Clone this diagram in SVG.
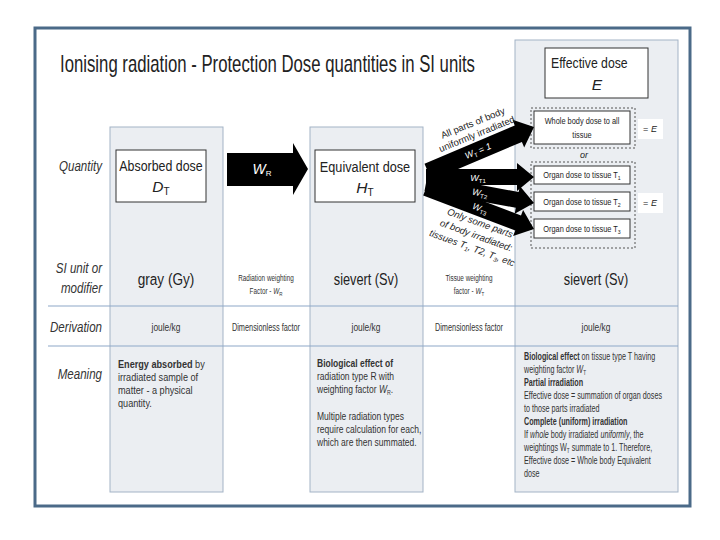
<svg xmlns="http://www.w3.org/2000/svg" width="720" height="540" viewBox="0 0 720 540">
<style>
text{font-family:"Liberation Sans",Arial,sans-serif;fill:#222}
.lbl{font-style:italic;font-size:15px;text-anchor:end;fill:#333}
.panel{fill:#ebeef2;stroke:#a3b3c6;stroke-width:1}
.hline{stroke:#8ea8c8;stroke-width:1.2}
.box{fill:#fff;stroke:#333;stroke-width:1}
.dash{fill:none;stroke:#555;stroke-width:1;stroke-dasharray:2 2}
.hdr{font-size:15.5px;text-anchor:middle}
.unit{font-size:17px;text-anchor:middle}
.sm{font-size:8.5px;text-anchor:middle;fill:#333}
.der{font-size:10.5px;text-anchor:middle;fill:#333}
.body{font-size:10.5px;fill:#333}
.body3{font-size:10px;fill:#333}
.arrow{fill:#000}
.wl{fill:#fff;font-style:italic;font-size:9px;text-anchor:middle}
.wl tspan{fill:#fff}
.wr{fill:#fff;font-style:italic;font-size:14px;text-anchor:middle}
.wr tspan{fill:#fff}
.fan{font-size:9.5px;text-anchor:middle}
.bx{font-size:8.5px;text-anchor:middle}
.eq{font-size:9px;text-anchor:middle}
.b{font-weight:bold}
.i{font-style:italic}
</style>
<rect x="35" y="28" width="655" height="478" fill="#fff" stroke="#4b6a88" stroke-width="3"/>
<text x="60" y="72" font-size="23" transform="matrix(0.728 0 0 1 16.32 0)">Ionising radiation - Protection Dose quantities in SI units</text>

<g id="panels">
<rect class="panel" x="110" y="127" width="113" height="365"/>
<rect class="panel" x="310" y="127" width="113" height="365"/>
<rect class="panel" x="515" y="40" width="163" height="452"/>
</g>
<g id="rows">
<line class="hline" x1="48" y1="306" x2="678" y2="306"/>
<line class="hline" x1="48" y1="346" x2="678" y2="346"/>
<g transform="matrix(0.77 0 0 1 23.46 0)">
<text class="lbl" x="102" y="171">Quantity</text>
<text class="lbl" x="102" y="273">SI unit or</text>
<text class="lbl" x="102" y="293">modifier</text>
<text class="lbl" x="102" y="332">Derivation</text>
<text class="lbl" x="102" y="379">Meaning</text>
</g>
</g>

<g id="node-absorbed">
<rect class="box" x="116" y="150" width="90" height="52"/>
<text class="hdr" x="161" y="171" transform="matrix(0.8 0 0 1 32.2 0)">Absorbed dose</text>
<text class="hdr" x="161" y="192"><tspan class="i">D</tspan><tspan font-size="10" dy="3">T</tspan></text>
</g>
<g id="node-equivalent">
<rect class="box" x="315" y="150" width="100" height="52"/>
<text class="hdr" x="365" y="172" transform="matrix(0.82 0 0 1 65.7 0)">Equivalent dose</text>
<text class="hdr" x="365" y="193"><tspan class="i">H</tspan><tspan font-size="10" dy="3">T</tspan></text>
</g>
<g id="node-effective">
<rect class="box" x="545" y="48" width="103" height="50"/>
<text x="551" y="68" font-size="15.5" transform="matrix(0.79 0 0 1 115.71 0)">Effective dose</text>
<text class="hdr i" x="597" y="90">E</text>
</g>
<g id="node-wholebody">
<rect class="dash" x="531" y="108" width="104" height="40"/>
<rect class="box" x="534" y="111" width="96" height="33"/>
<g transform="matrix(0.87 0 0 1 75.66 0)">
<text class="bx" x="582" y="124">Whole body dose to all</text>
<text class="bx" x="582" y="138">tissue</text>
</g>
<rect x="638" y="119" width="25" height="20" fill="#fff"/>
<text class="eq" x="650" y="132">= <tspan class="i">E</tspan></text>
</g>
<text class="eq i" x="584" y="158" font-size="8">or</text>
<g id="node-organs">
<rect class="dash" x="531" y="162" width="104" height="86"/>
<rect x="638" y="193" width="25" height="20" fill="#fff"/>
<text class="eq" x="650" y="206">= <tspan class="i">E</tspan></text>
</g>
<g id="node-organ1">
<rect class="box" x="534" y="166" width="96" height="18"/>
<text class="bx" x="582" y="178" transform="matrix(0.87 0 0 1 75.66 0)">Organ dose to tissue T<tspan font-size="6" dy="2">1</tspan></text>
</g>
<g id="node-organ2">
<rect class="box" x="534" y="192" width="96" height="19"/>
<text class="bx" x="582" y="205" transform="matrix(0.87 0 0 1 75.66 0)">Organ dose to tissue T<tspan font-size="6" dy="2">2</tspan></text>
</g>
<g id="node-organ3">
<rect class="box" x="534" y="219" width="96" height="19"/>
<text class="bx" x="582" y="232" transform="matrix(0.87 0 0 1 75.66 0)">Organ dose to tissue T<tspan font-size="6" dy="2">3</tspan></text>
</g>

<g id="connectors">
<polygon class="arrow" points="227,153 293,153 293,143 308,169 293,195 293,186 227,186"/>
<text class="wr" x="262" y="174">W<tspan font-size="8" dy="2" font-style="normal">R</tspan></text>
<polygon class="arrow" points="424.5,163.7 514.8,125.4 512.5,119.8 534,127 524.2,147.5 521.9,141.9 431.5,180.3"/>
<polygon class="arrow" points="426,169 517,169 517,163 534,177 517,191 517,185 426,185"/>
<polygon class="arrow" points="427.5,175.1 518.7,192 519.8,186.1 534,203 514.7,213.7 515.8,207.8 424.5,190.9"/>
<polygon class="arrow" points="428.8,180.5 521,215.5 523.1,209.9 534,229 513.1,236.1 515.3,230.5 423.2,195.5"/>
<text class="wl" x="478" y="154" transform="rotate(-23 478 151)">W<tspan font-size="6" dy="2" font-style="normal">T</tspan><tspan dy="-2"> = 1</tspan></text>
<text class="wl" x="478" y="181">W<tspan font-size="6" dy="2" font-style="normal">T1</tspan></text>
<text class="wl" x="480" y="196" transform="rotate(10.5 480 193)">W<tspan font-size="6" dy="2" font-style="normal">T2</tspan></text>
<text class="wl" x="480" y="211.5" transform="rotate(20.8 480 208.5)">W<tspan font-size="6" dy="2" font-style="normal">T3</tspan></text>
<text class="fan" x="474" y="126" transform="rotate(-22 474 126)">All parts of body</text>
<text class="fan" x="478" y="137" transform="rotate(-22 478 137)">uniformly irradiated</text>
<text class="fan i" x="479" y="226" transform="rotate(20 479 226)">Only some parts</text>
<text class="fan i" x="475" y="238.5" transform="rotate(20 475 238.5)">of body irradiated:</text>
<text class="fan i" x="471" y="251" font-size="8.5" transform="rotate(20 471 251)">tissues T<tspan font-size="6" dy="2">1</tspan><tspan dy="-2">, T2, T</tspan><tspan font-size="6" dy="2">3</tspan><tspan dy="-2">, etc</tspan></text>
</g>

<g id="si-row">
<text class="unit" x="166" y="285" transform="matrix(0.8 0 0 1 33.2 0)">gray (Gy)</text>
<g transform="matrix(0.75 0 0 1 66.5 0)">
<text class="sm" x="266" y="281">Radiation weighting</text>
<text class="sm" x="266" y="294">Factor - <tspan class="i">W</tspan><tspan font-size="6" dy="2">R</tspan></text>
</g>
<text class="unit" x="366" y="285" transform="matrix(0.75 0 0 1 91.5 0)">sievert (Sv)</text>
<g transform="matrix(0.75 0 0 1 117.25 0)">
<text class="sm" x="469" y="281">Tissue weighting</text>
<text class="sm" x="469" y="294">factor - <tspan class="i">W</tspan><tspan font-size="6" dy="2">T</tspan></text>
</g>
<text class="unit" x="596" y="285" transform="matrix(0.75 0 0 1 149 0)">sievert (Sv)</text>
</g>
<g id="derivation-row">
<text class="der" x="166" y="331" transform="matrix(0.8 0 0 1 33.2 0)">joule/kg</text>
<text class="der" x="266" y="331" transform="matrix(0.7 0 0 1 79.8 0)">Dimensionless factor</text>
<text class="der" x="366" y="331" transform="matrix(0.8 0 0 1 73.2 0)">joule/kg</text>
<text class="der" x="469" y="331" transform="matrix(0.7 0 0 1 140.7 0)">Dimensionless factor</text>
<text class="der" x="596" y="331" transform="matrix(0.8 0 0 1 119.2 0)">joule/kg</text>
</g>
<g id="meaning-row">
<g transform="matrix(0.87 0 0 1 15.34 0)">
<text class="body" x="118" y="368"><tspan class="b">Energy absorbed</tspan> by</text>
<text class="body" x="118" y="381">irradiated sample of</text>
<text class="body" x="118" y="394">matter - a physical</text>
<text class="body" x="118" y="407">quantity.</text>
</g>
<g transform="matrix(0.81 0 0 1 60.23 0)">
<text class="body b" x="317" y="367">Biological effect of</text>
<text class="body" x="317" y="380">radiation type R with</text>
<text class="body" x="317" y="393">weighting factor <tspan class="i">W</tspan><tspan font-size="6.5" dy="2">R</tspan><tspan dy="-2">.</tspan></text>
<text class="body" x="317" y="420">Multiple radiation types</text>
<text class="body" x="317" y="433">require calculation for each,</text>
<text class="body" x="317" y="446">which are then summated.</text>
</g>
<g transform="matrix(0.72 0 0 1 146.72 0)">
<text class="body3" x="524" y="360"><tspan class="b">Biological effect</tspan> on tissue type T having</text>
<text class="body3" x="524" y="373">weighting factor <tspan class="i">W</tspan><tspan font-size="6.5" dy="2">T</tspan></text>
<text class="body3 b" x="524" y="386">Partial irradiation</text>
<text class="body3" x="524" y="399">Effective dose = summation of organ doses</text>
<text class="body3" x="524" y="412">to those parts irradiated</text>
<text class="body3 b" x="524" y="425">Complete (uniform) irradiation</text>
<text class="body3" x="524" y="438">If <tspan class="i">whole</tspan> body irradiated <tspan class="i">uniformly</tspan>, the</text>
<text class="body3" x="524" y="451">weightings W<tspan font-size="6.5" dy="2">T</tspan><tspan dy="-2"> summate to 1. Therefore,</tspan></text>
<text class="body3" x="524" y="464">Effective dose = Whole body Equivalent</text>
<text class="body3" x="524" y="477">dose</text>
</g>
</g>
</svg>
